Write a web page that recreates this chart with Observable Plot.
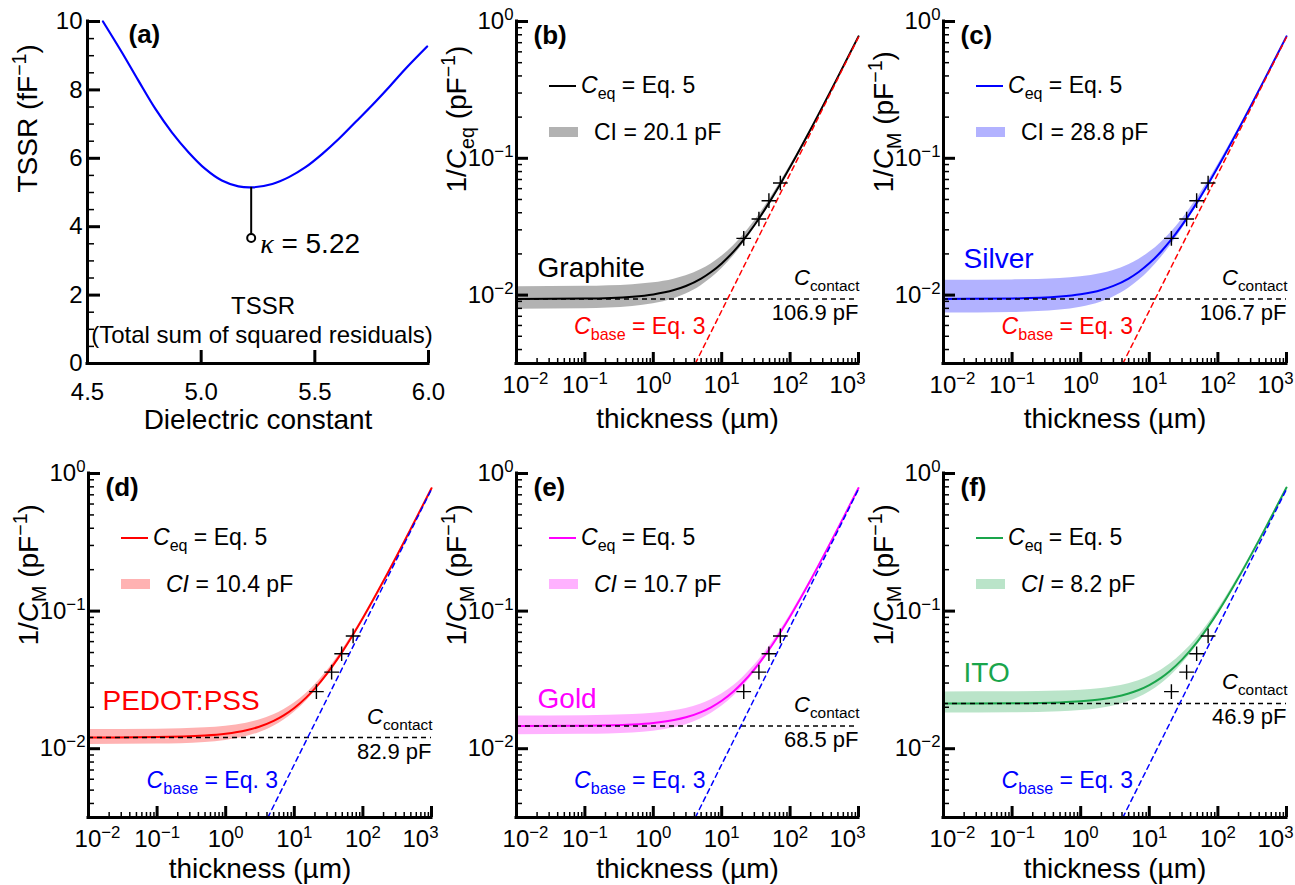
<!DOCTYPE html>
<html>
<head>
<meta charset="utf-8">
<script src="https://cdn.jsdelivr.net/npm/d3@7"></script>
<script src="https://cdn.jsdelivr.net/npm/@observablehq/plot@0.6"></script>
<style>
  body { margin: 0; background: #fff; }
  #fig { position: relative; width: 1295px; height: 885px; overflow: hidden; background: #fff;
         font-family: "Liberation Sans", Arial, sans-serif; }
  #fig svg { position: absolute; left: 0; top: 0; }
  .lt { position: absolute; white-space: nowrap; font-size: 23px; line-height: 23px; color: #000; }
  .lt .sub { font-size: 16px; position: relative; top: 6px; }
  .sw { position: absolute; }
</style>
</head>
<body>
<div id="fig"></div>
<script>
// ---------------- data ----------------
// panel (a): TSSR vs dielectric constant
const kappa = [4.568, 4.651, 4.724, 4.798, 4.871, 4.944, 5.018, 5.091, 5.164, 5.223, 5.313, 5.386, 5.459, 5.533, 5.606, 5.679, 5.753, 5.826, 5.899, 5.994];
const tssr  = [10.0, 9.10, 8.27, 7.45, 6.76, 6.18, 5.69, 5.35, 5.18, 5.15, 5.25, 5.45, 5.74, 6.13, 6.57, 7.06, 7.56, 8.08, 8.62, 9.27];
const kappaBest = [5.22];
const tssrBest = [5.15];
const kappaMarkerTSSR = [3.67];
const aXTicks = [4.5, 5.0, 5.5, 6.0];
const aXTickLabels = ["4.5", "5.0", "5.5", "6.0"];
const aYTicks = [0, 2, 4, 6, 8, 10];
const aYTickLabels = ["0", "2", "4", "6", "8", "10"];
const aYMinor = [0.5, 1, 1.5, 2.5, 3, 3.5, 4.5, 5, 5.5, 6.5, 7, 7.5, 8.5, 9, 9.5];

// panels (b)-(f): 1/C vs thickness
const thickness = [0.01, 0.1, 0.5, 1, 2, 3, 5, 7, 10, 15, 20, 30, 50, 70, 100, 200, 500, 1000];

const invC_graphite = [0.00936, 0.00943, 0.00974, 0.01012, 0.01089, 0.01166, 0.01320, 0.01474, 0.01705, 0.02089, 0.02474, 0.03243, 0.04782, 0.06320, 0.08628, 0.16320, 0.39397, 0.77859];
const ciHi_graphite = [0.01153, 0.01160, 0.01191, 0.01229, 0.01306, 0.01383, 0.01537, 0.01691, 0.01921, 0.02306, 0.02691, 0.03460, 0.04998, 0.06537, 0.08844, 0.16537, 0.39614, 0.78075];
const ciLo_graphite = [0.00788, 0.00795, 0.00826, 0.00864, 0.00941, 0.01018, 0.01172, 0.01326, 0.01556, 0.01941, 0.02326, 0.03095, 0.04633, 0.06172, 0.08480, 0.16172, 0.39249, 0.77710];

const invC_silver = [0.00938, 0.00945, 0.00976, 0.01014, 0.01091, 0.01168, 0.01322, 0.01476, 0.01706, 0.02091, 0.02476, 0.03245, 0.04783, 0.06322, 0.08630, 0.16322, 0.39399, 0.77860];
const ciHi_silver = [0.01285, 0.01292, 0.01323, 0.01361, 0.01438, 0.01515, 0.01669, 0.01823, 0.02053, 0.02438, 0.02823, 0.03592, 0.05130, 0.06669, 0.08977, 0.16669, 0.39746, 0.78207];
const ciLo_silver = [0.00739, 0.00746, 0.00777, 0.00815, 0.00892, 0.00969, 0.01123, 0.01277, 0.01507, 0.01892, 0.02277, 0.03046, 0.04584, 0.06123, 0.08431, 0.16123, 0.39200, 0.77661];

const invC_pedot = [0.01207, 0.01214, 0.01245, 0.01283, 0.01360, 0.01437, 0.01591, 0.01745, 0.01975, 0.02360, 0.02745, 0.03514, 0.05052, 0.06591, 0.08898, 0.16591, 0.39668, 0.78129];
const ciHi_pedot = [0.01380, 0.01387, 0.01418, 0.01456, 0.01533, 0.01610, 0.01764, 0.01918, 0.02148, 0.02533, 0.02918, 0.03687, 0.05225, 0.06764, 0.09071, 0.16764, 0.39841, 0.78302];
const ciLo_pedot = [0.01073, 0.01080, 0.01111, 0.01149, 0.01226, 0.01303, 0.01457, 0.01611, 0.01841, 0.02226, 0.02611, 0.03380, 0.04918, 0.06457, 0.08764, 0.16457, 0.39534, 0.77995];

const invC_gold = [0.01461, 0.01468, 0.01499, 0.01537, 0.01614, 0.01691, 0.01845, 0.01999, 0.02229, 0.02614, 0.02999, 0.03768, 0.05306, 0.06845, 0.09152, 0.16845, 0.39922, 0.78383];
const ciHi_gold = [0.01731, 0.01738, 0.01769, 0.01807, 0.01884, 0.01961, 0.02115, 0.02269, 0.02499, 0.02884, 0.03269, 0.04038, 0.05576, 0.07115, 0.09422, 0.17115, 0.40192, 0.78653];
const ciLo_gold = [0.01264, 0.01271, 0.01302, 0.01340, 0.01417, 0.01494, 0.01648, 0.01802, 0.02032, 0.02417, 0.02802, 0.03571, 0.05109, 0.06648, 0.08955, 0.16648, 0.39725, 0.78186];

const invC_ito = [0.02133, 0.02140, 0.02171, 0.02209, 0.02286, 0.02363, 0.02517, 0.02671, 0.02901, 0.03286, 0.03671, 0.04440, 0.05978, 0.07517, 0.09824, 0.17517, 0.40594, 0.79055];
const ciHi_ito = [0.02585, 0.02592, 0.02623, 0.02661, 0.02738, 0.02815, 0.02969, 0.03123, 0.03353, 0.03738, 0.04123, 0.04892, 0.06430, 0.07969, 0.10276, 0.17969, 0.41046, 0.79507];
const ciLo_ito = [0.01816, 0.01823, 0.01854, 0.01892, 0.01969, 0.02046, 0.02200, 0.02354, 0.02584, 0.02969, 0.03354, 0.04123, 0.05661, 0.07200, 0.09507, 0.17200, 0.40277, 0.78747];

const materials = ["Graphite", "Silver", "PEDOT:PSS", "Gold", "ITO"];
const contactPF = [106.9, 106.7, 82.9, 68.5, 46.9];
const contactInv = [0.00935, 0.00937, 0.01206, 0.01460, 0.02132];
const ciPF = [20.1, 28.8, 10.4, 10.7, 8.2];

const baseT = [4.11, 1000];
const baseInv = [0.00316, 0.769];
const pointT = [21, 35, 49, 72];
const pointInv = [0.026, 0.036, 0.049, 0.066];

const xLogTicks = [0.01, 0.1, 1, 10, 100, 1000];
const xLogTickLabels = ["10^{−2}", "10^{−1}", "10^{0}", "10^{1}", "10^{2}", "10^{3}"];
const yLogTicks = [0.01, 0.1, 1];
const yLogTickLabels = ["10^{−2}", "10^{−1}", "10^{0}"];
const xLogMinor = [0.02,0.03,0.04,0.05,0.06,0.07,0.08,0.09, 0.2,0.3,0.4,0.5,0.6,0.7,0.8,0.9, 2,3,4,5,6,7,8,9, 20,30,40,50,60,70,80,90, 200,300,400,500,600,700,800,900];
const yLogMinor = [0.004,0.005,0.006,0.007,0.008,0.009, 0.02,0.03,0.04,0.05,0.06,0.07,0.08,0.09, 0.2,0.3,0.4,0.5,0.6,0.7,0.8,0.9];

// ---------------- helpers ----------------
const fig = document.getElementById("fig");
const NS = "http://www.w3.org/2000/svg";
const FONT = '"Liberation Sans", Arial, Helvetica, sans-serif';

function richify(el) {
  const s = el.textContent;
  if (!/[*_^κ]/.test(s)) return;
  const fs = parseFloat(getComputedStyle(el).fontSize) || 24;
  while (el.firstChild) el.removeChild(el.firstChild);
  const re = /\*([^*]+)\*|_\{([^}]*)\}|\^\{([^}]*)\}|(κ)/g;
  let last = 0, m;
  const add = (txt, attrs) => {
    if (!txt) return;
    const t = document.createElementNS(NS, "tspan");
    t.textContent = txt;
    for (const k in (attrs || {})) t.setAttribute(k, attrs[k]);
    el.appendChild(t);
  };
  while ((m = re.exec(s))) {
    add(s.slice(last, m.index));
    if (m[1]) add(m[1], {"font-style": "italic"});
    else if (m[2] !== undefined) add(m[2], {"font-size": (0.7 * fs).toFixed(1), "baseline-shift": (-0.27 * fs).toFixed(1)});
    else if (m[3] !== undefined) add(m[3], {"font-size": (0.7 * fs).toFixed(1), "baseline-shift": (0.38 * fs).toFixed(1)});
    else if (m[4]) add(m[4], {"font-style": "italic", "font-family": "'Liberation Serif', 'DejaVu Serif', serif"});
    last = re.lastIndex;
  }
  add(s.slice(last));
}

function frameMarks(f, xDom, yDom, xMaj, xMin, yMaj, yMin, len) {
  const fw = f.R - f.L, fh = f.B - f.T;
  const marks = [];
  if (yMin.length) marks.push(Plot.tickY(yMin, {y: d => d, insetRight: fw - len.yMinor, strokeWidth: 1.5, stroke: "black"}));
  marks.push(Plot.tickY(yMaj, {y: d => d, insetRight: fw - len.yMajor, strokeWidth: 3, stroke: "black"}));
  if (xMin.length) marks.push(Plot.tickX(xMin, {x: d => d, insetTop: fh - len.xMinor, strokeWidth: 1.5, stroke: "black"}));
  marks.push(Plot.tickX(xMaj, {x: d => d, insetTop: fh - len.xMajor, strokeWidth: 3, stroke: "black"}));
  marks.push(Plot.ruleX([xDom[0]], {strokeWidth: 3, stroke: "black", strokeLinecap: "square"}));
  marks.push(Plot.ruleY([yDom[0]], {strokeWidth: 3, stroke: "black", strokeLinecap: "square"}));
  return marks;
}

function render(f, x, y, marks, edgeShift) {
  const svg = Plot.plot({
    width: 1295, height: 885,
    marginLeft: f.L, marginRight: 1295 - f.R, marginTop: f.T, marginBottom: 885 - f.B,
    style: {background: "transparent", fontFamily: FONT, fontSize: "24px", overflow: "visible", color: "black"},
    x, y, marks
  });
  fig.appendChild(svg);
  if (edgeShift) {
    svg.querySelectorAll("text").forEach(t => {
      const g = t.closest('[aria-label*="x-axis"]');
      if (!g) return;
      if (t.textContent === edgeShift.first) t.setAttribute("dx", edgeShift.firstDx);
      if (t.textContent === edgeShift.last) t.setAttribute("dx", edgeShift.lastDx);
    });
  }
  svg.querySelectorAll("text").forEach(richify);
  return svg;
}

function addDiv(cls, css, html) {
  const d = document.createElement("div");
  d.className = cls;
  Object.assign(d.style, css);
  if (html) d.innerHTML = html;
  fig.appendChild(d);
}

// ---------------- panel (a) ----------------
{
  const f = {L: 87, R: 428, T: 21, B: 363};
  const xDom = [4.5, 6.0], yDom = [0, 10];
  const curve = kappa.map((k, i) => ({k, v: tssr[i]}));
  render(f,
    {domain: xDom, ticks: aXTicks, tickFormat: d => aXTickLabels[aXTicks.indexOf(d)], tickSize: 0, tickPadding: 19, label: null},
    {domain: yDom, ticks: aYTicks, tickFormat: d => aYTickLabels[aYTicks.indexOf(d)], tickSize: 0, tickPadding: 5, label: null},
    [
      ...frameMarks(f, xDom, yDom, aXTicks, [], aYTicks, aYMinor, {yMajor: 13, yMinor: 7, xMajor: 13, xMinor: 6}),
      Plot.line(curve, {x: "k", y: "v", stroke: "#0000ff", strokeWidth: 2.2, curve: "catmull-rom"}),
      Plot.ruleX(kappaBest, {x: d => d, y1: tssrBest[0], y2: kappaMarkerTSSR[0], stroke: "black", strokeWidth: 2}),
      Plot.dot(kappaBest, {x: d => d, y: kappaMarkerTSSR[0], r: 4, stroke: "black", fill: "white", strokeWidth: 2}),
      Plot.text(kappaBest, {x: d => d, y: kappaMarkerTSSR[0], text: d => `κ = ${d.toFixed(2)}`, dx: 9, dy: 15, textAnchor: "start", lineAnchor: "bottom", fontSize: 28}),
      Plot.text(["TSSR"], {text: d => d, frameAnchor: "bottom", dx: 5, dy: -50, lineAnchor: "bottom", fontSize: 24}),
      Plot.text(["(Total sum of squared residuals)"], {text: d => d, frameAnchor: "bottom", dx: 4, dy: -21, lineAnchor: "bottom", fontSize: 24}),
      Plot.text(["(a)"], {text: d => d, frameAnchor: "top-left", dx: 41, dy: 21, textAnchor: "start", lineAnchor: "bottom", fontSize: 26, fontWeight: "bold"}),
      Plot.text(["Dielectric constant"], {text: d => d, frameAnchor: "bottom", dy: 65, lineAnchor: "bottom", fontSize: 28}),
      Plot.text(["TSSR (fF^{−1})"], {text: d => d, frameAnchor: "left", dx: -51, rotate: -90, lineAnchor: "bottom", fontSize: 28})
    ]);
}

// ---------------- panels (b)-(f) ----------------
const panels = [
  {letter: "(b)", f: {L: 516, R: 858, T: 21, B: 363}, mid: invC_graphite, hi: ciHi_graphite, lo: ciLo_graphite,
   color: "#000000", baseColor: "#ff0000", yTitle: "1/*C*_{eq} (pF^{−1})", ciItalic: false, nameAt: [0.0203, 0.01361], titleDy: 64},
  {letter: "(c)", f: {L: 943, R: 1286, T: 21, B: 363}, mid: invC_silver, hi: ciHi_silver, lo: ciLo_silver,
   color: "#0000ff", baseColor: "#ff0000", yTitle: "1/*C*_{M} (pF^{−1})", ciItalic: false, nameAt: [0.0196, 0.01574], titleDy: 64},
  {letter: "(d)", f: {L: 88, R: 431, T: 473, B: 817}, mid: invC_pedot, hi: ciHi_pedot, lo: ciLo_pedot,
   color: "#ff0000", baseColor: "#0000ff", yTitle: "1/*C*_{M} (pF^{−1})", ciItalic: true, nameAt: [0.0160, 0.01899], titleDy: 60},
  {letter: "(e)", f: {L: 516, R: 858, T: 473, B: 817}, mid: invC_gold, hi: ciHi_gold, lo: ciLo_gold,
   color: "#ff00ff", baseColor: "#0000ff", yTitle: "1/*C*_{M} (pF^{−1})", ciItalic: true, nameAt: [0.0203, 0.01963], titleDy: 60},
  {letter: "(f)", f: {L: 943, R: 1286, T: 473, B: 817}, mid: invC_ito, hi: ciHi_ito, lo: ciLo_ito,
   color: "#1aa54b", baseColor: "#0000ff", yTitle: "1/*C*_{M} (pF^{−1})", ciItalic: true, nameAt: [0.0196, 0.03033], titleDy: 60}
];

const xDomLog = [0.01, 1000];
const yDomLog = [0.0031623, 1];

panels.forEach((p, i) => {
  const f = p.f;
  const table = thickness.map((t, j) => ({t, mid: p.mid[j], hi: p.hi[j], lo: p.lo[j]}));
  const base = baseT.map((t, j) => ({t, v: baseInv[j]}));
  const pts = pointT.map((t, j) => ({t, v: pointInv[j]}));
  render(f,
    {type: "log", domain: xDomLog, ticks: xLogTicks, tickFormat: d => xLogTickLabels[xLogTicks.indexOf(d)], tickSize: 0, tickPadding: 12, label: null},
    {type: "log", domain: yDomLog, ticks: yLogTicks, tickFormat: d => yLogTickLabels[yLogTicks.indexOf(d)], tickSize: 0, tickPadding: 3, label: null},
    [
      Plot.areaY(table, {x: "t", y1: "lo", y2: "hi", fill: p.color, fillOpacity: 0.3, curve: "monotone-x"}),
      Plot.line(table, {x: "t", y: "mid", stroke: p.color, strokeWidth: 2, curve: "monotone-x"}),
      Plot.ruleY([contactInv[i]], {y: d => d, stroke: "black", strokeWidth: 1.5, strokeDasharray: "5,4"}),
      Plot.line(base, {x: "t", y: "v", stroke: p.baseColor, strokeWidth: 1.5, strokeDasharray: "5,4"}),
      Plot.dot(pts, {x: "t", y: "v", symbol: "plus", r: 4.8, stroke: "black", strokeWidth: 1.4}),
      ...frameMarks(f, xDomLog, yDomLog, xLogTicks, xLogMinor, yLogTicks, yLogMinor, {yMajor: 12, yMinor: 6, xMajor: 11, xMinor: 5}),
      Plot.text([contactInv[i]], {y: d => d, text: () => "*C*_{contact}", frameAnchor: "right", dx: 1, dy: -14, textAnchor: "end", lineAnchor: "bottom", fontSize: 22}),
      Plot.text([contactInv[i]], {y: d => d, text: () => `${contactPF[i].toFixed(1)} pF`, frameAnchor: "right", dx: 0, dy: 21, textAnchor: "end", lineAnchor: "bottom", fontSize: 22}),
      Plot.text([{t: 5.8, v: 0.0052}], {x: "t", y: "v", text: () => "*C*_{base} = Eq. 3", textAnchor: "end", lineAnchor: "bottom", fontSize: 23, fill: p.baseColor}),
      Plot.text([{t: p.nameAt[0], v: p.nameAt[1]}], {x: "t", y: "v", text: () => materials[i], textAnchor: "start", lineAnchor: "bottom", fontSize: 28, fill: p.color === "#000000" ? "black" : p.color}),
      Plot.text([p.letter], {text: d => d, frameAnchor: "top-left", dx: 17, dy: 22, textAnchor: "start", lineAnchor: "bottom", fontSize: 26, fontWeight: "bold"}),
      Plot.text(["thickness (µm)"], {text: d => d, frameAnchor: "bottom", dy: p.titleDy, lineAnchor: "bottom", fontSize: 28}),
      Plot.text([p.yTitle], {text: d => d, frameAnchor: "left", dx: -51, rotate: -90, lineAnchor: "bottom", fontSize: 28})
    ],
    {first: xLogTickLabels[0], firstDx: 9, last: xLogTickLabels[xLogTickLabels.length - 1], lastDx: -11});

  // legend (HTML overlay)
  addDiv("sw", {left: (f.L + 33) + "px", top: (f.T + 63.5) + "px", width: "27px", height: "2px", background: p.color});
  addDiv("lt", {left: (f.L + 65) + "px", top: (f.T + 72 - 19.5) + "px"}, `<i>C</i><span class="sub">eq</span> = Eq. 5`);
  addDiv("sw", {left: (f.L + 33) + "px", top: (f.T + 106) + "px", width: "29px", height: "10px", background: p.color, opacity: 0.3});
  addDiv("lt", {left: (f.L + 78) + "px", top: (f.T + 119 - 19.5) + "px"}, `${p.ciItalic ? "<i>CI</i>" : "CI"} = ${ciPF[i].toFixed(1)} pF`);
});
</script>
</body>
</html>
